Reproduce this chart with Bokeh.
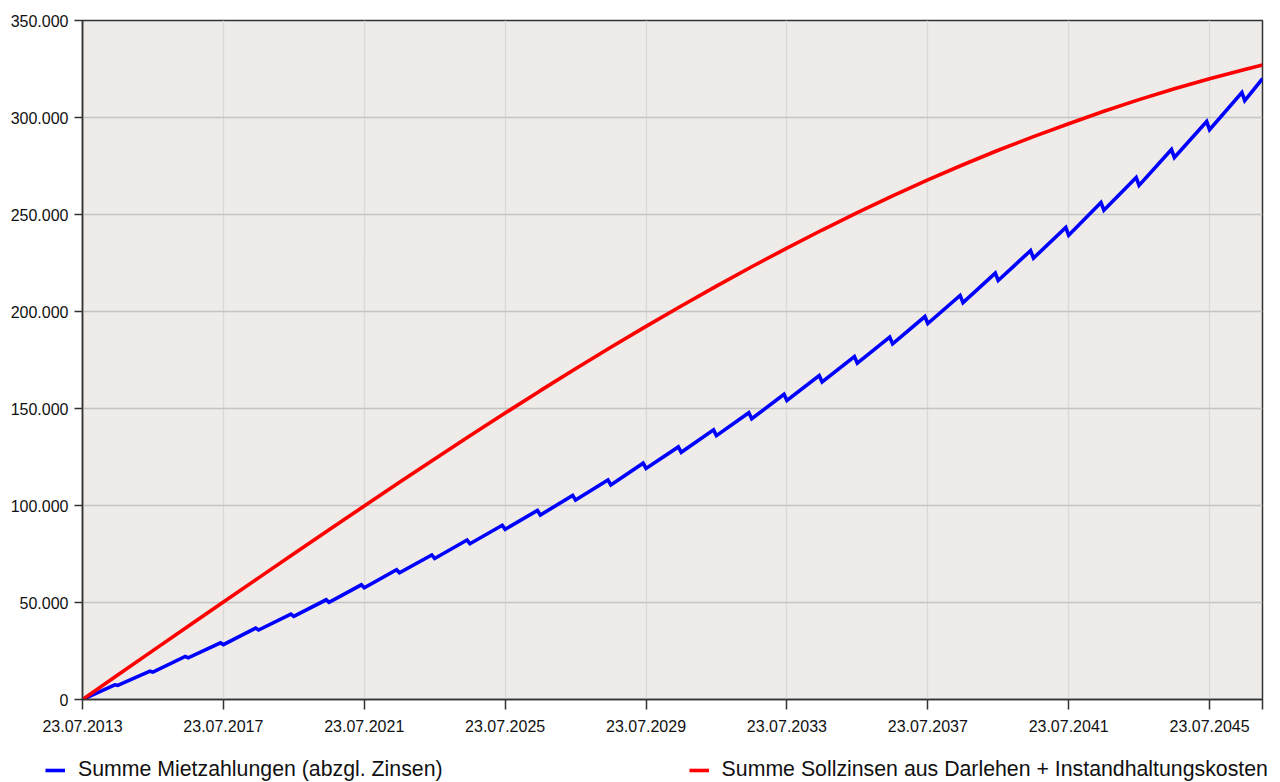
import pandas as pd
from bokeh.plotting import figure
from bokeh.models import (FixedTicker, Range1d, Legend, LegendItem,
                          ColumnDataSource, CustomJSTickFormatter)
from bokeh.embed import file_html
from bokeh.resources import INLINE

# ---------------- data (values in thousands of EUR) ----------------
start_date = "2013-07-23"
end_date = "2047-01-23"

# blue: cumulative rent payments (less interest) – yearly peak and the drop after it
blue_peak_years = list(range(2014, 2047))
blue_peaks = [7.6, 14.6, 22.2, 29.2, 36.8, 44.0, 51.4, 59.1, 66.9, 74.5,
              82.2, 89.8, 97.4, 105.2, 113.2, 121.8, 130.2, 139.0, 147.8, 157.3,
              167.0, 176.8, 186.8, 197.4, 208.3, 219.8, 231.4, 243.3, 256.2, 269.1,
              283.5, 297.9, 312.9]
blue_drops = [0.3, 0.5, 0.7, 0.9, 1.0, 1.2, 1.3, 1.5, 1.6, 1.8,
              1.9, 2.1, 2.3, 2.4, 2.6, 2.7, 2.8, 3.0, 3.1, 3.2,
              3.3, 3.4, 3.5, 3.6, 3.7, 3.8, 3.9, 4.0, 4.0, 4.1,
              4.1, 4.2, 4.2]
blue_end_value = 320.0

# red: cumulative loan interest + maintenance costs, value on 23.07. of each year
red_years = list(range(2013, 2047))
red_values = [0.0, 12.6, 25.2, 37.75, 50.25, 62.7, 75.1, 87.45, 99.75, 111.95,
              124.0, 135.9, 147.65, 159.2, 170.5, 181.55, 192.35, 202.85, 213.1, 223.05,
              232.7, 242.0, 250.95, 259.55, 267.8, 275.65, 283.1, 290.15, 296.8, 303.2,
              309.2, 314.8, 320.0, 324.8]
red_end_value = 327.0

x_tick_labels = ["23.07.2013", "23.07.2017", "23.07.2021", "23.07.2025", "23.07.2029",
                 "23.07.2033", "23.07.2037", "23.07.2041", "23.07.2045"]
y_tick_labels = ["0", "50.000", "100.000", "150.000", "200.000", "250.000", "300.000", "350.000"]

series_names = ["Summe Mietzahlungen (abzgl. Zinsen)",
                "Summe Sollzinsen aus Darlehen + Instandhaltungskosten"]

# ---------------- build sources ----------------
def ts(s):
    return pd.Timestamp(s)

def ms(t):
    return float(pd.Timestamp(t).value // 10**6)

blue_x = [ts(start_date)]
blue_y = [0.0]
for yr, pk, dr in zip(blue_peak_years, blue_peaks, blue_drops):
    blue_x.append(ts(f"{yr}-06-23")); blue_y.append(pk * 1000)
    blue_x.append(ts(f"{yr}-07-23")); blue_y.append((pk - dr) * 1000)
blue_x.append(ts(end_date)); blue_y.append(blue_end_value * 1000)

red_x = [ts(f"{yr}-07-23") for yr in red_years] + [ts(end_date)]
red_y = [v * 1000 for v in red_values] + [red_end_value * 1000]

blue_src = ColumnDataSource(dict(x=blue_x, y=blue_y))
red_src = ColumnDataSource(dict(x=red_x, y=red_y))

FONT = "Liberation Sans"
BLUE, RED, LW = "#0000FF", "#FF0000", 3.6

p = figure(frame_width=1180, frame_height=679, x_axis_type="datetime",
           output_backend="svg", toolbar_location=None,
           x_range=Range1d(ts(start_date), ts(end_date)),
           y_range=Range1d(0, 350000),
           min_border_left=82, min_border_right=10,
           min_border_top=20, min_border_bottom=40)

p.background_fill_color = "#EEEBE8"
p.border_fill_color = "white"
p.outline_line_color = "#333333"
p.outline_line_width = 1.5

p.line("x", "y", source=blue_src, color=BLUE, line_width=LW, line_join="miter")
p.line("x", "y", source=red_src, color=RED, line_width=LW)

# x axis ticks (plus unlabeled tick at end)
x_ticks = [ms(pd.to_datetime(l, format="%d.%m.%Y")) for l in x_tick_labels]
x_ticks_all = x_ticks + [ms(end_date)]
p.xaxis.ticker = FixedTicker(ticks=x_ticks_all)
p.xaxis.formatter = CustomJSTickFormatter(args=dict(tvals=x_ticks, tlabels=x_tick_labels), code="""
    const i = tvals.indexOf(tick);
    return i >= 0 ? tlabels[i] : "";
""")

y_ticks = [float(l.replace(".", "")) for l in y_tick_labels]
p.yaxis.ticker = FixedTicker(ticks=y_ticks)
p.yaxis.formatter = CustomJSTickFormatter(args=dict(tvals=y_ticks, tlabels=y_tick_labels), code="""
    const i = tvals.indexOf(tick);
    return i >= 0 ? tlabels[i] : "";
""")

for ax in (p.xaxis[0], p.yaxis[0]):
    ax.axis_line_color = "#333333"
    ax.axis_line_width = 1.5
    ax.major_tick_line_color = "#333333"
    ax.major_tick_line_width = 1.5
    ax.major_tick_in = 0
    ax.minor_tick_line_color = None
    ax.major_label_text_font = FONT
    ax.major_label_text_font_size = "16px"
    ax.major_label_text_color = "#111111"
p.xaxis.major_tick_out = 10
p.xaxis.major_label_standoff = 10
p.yaxis.major_tick_out = 8
p.yaxis.major_label_standoff = 6

p.xgrid.grid_line_color = "#D9D9D9"
p.xgrid.grid_line_width = 1.3
p.ygrid.grid_line_color = "#C4C4C4"
p.ygrid.grid_line_width = 1.3

# ---------------- legend strip below the chart (separate root, no frame alignment) ----------------
lg = figure(width=1272, height=43, output_backend="svg", toolbar_location=None,
            x_range=Range1d(0, 1), y_range=Range1d(0, 1),
            x_axis_location=None, y_axis_location=None,
            min_border=0, min_border_left=0, min_border_right=0,
            min_border_top=0, min_border_bottom=0)
lg.outline_line_color = None
lg.xgrid.visible = False
lg.ygrid.visible = False
lg.background_fill_color = "white"
lg.border_fill_color = "white"
lb = lg.line("x", "y", source=blue_src, color=BLUE, line_width=LW)
lr = lg.line("x", "y", source=red_src, color=RED, line_width=LW)

legend = Legend(items=[LegendItem(label=series_names[0], renderers=[lb]),
                       LegendItem(label=series_names[1], renderers=[lr])],
                orientation="horizontal", location=(45, 0),
                padding=0, margin=0, spacing=246, label_standoff=13,
                glyph_width=20, glyph_height=20,
                label_text_font=FONT, label_text_font_size="21.3px",
                label_text_color="#111111",
                background_fill_alpha=0, border_line_alpha=0)
lg.add_layout(legend)

open("out.html", "w").write(file_html([p, lg], INLINE))
